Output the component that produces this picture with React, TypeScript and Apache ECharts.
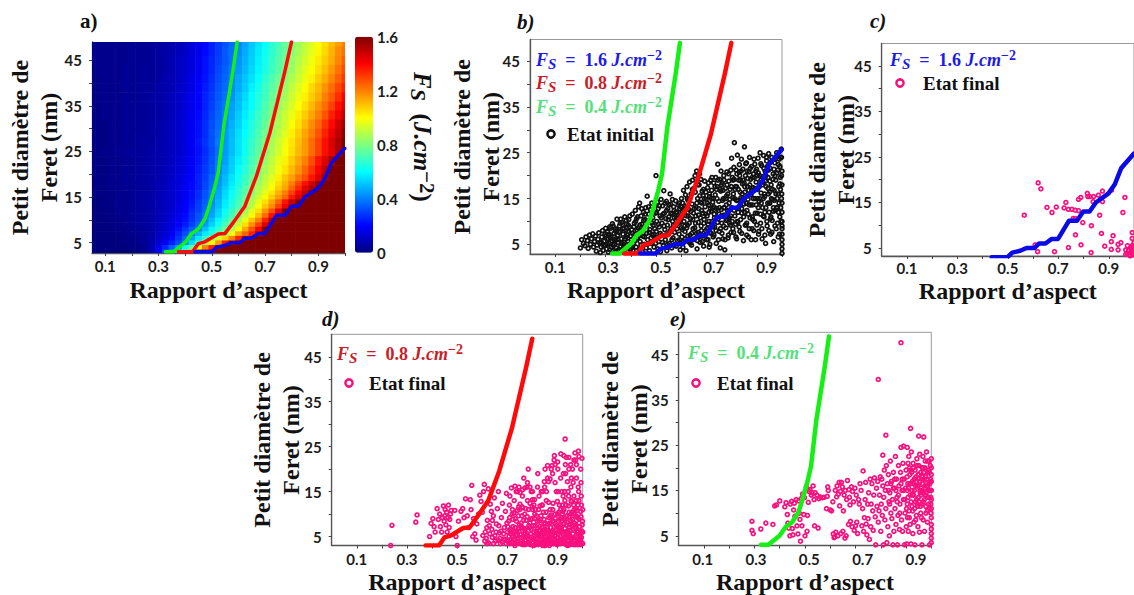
import React, { useEffect, useRef } from "react";
import * as echarts from "echarts";

// ---------- tick values ----------
const xTicks = [0.1, 0.2, 0.3, 0.4, 0.5, 0.6, 0.7, 0.8, 0.9, 1.0];
const xLabels = [0.1, 0.3, 0.5, 0.7, 0.9];
const yTicks = [5, 10, 15, 20, 25, 30, 35, 40, 45];
const yLabels = [5, 15, 25, 35, 45];
const barLabels = [0, 0.4, 0.8, 1.2, 1.6];

// ---------- contour curves (aspect ratio, Feret diameter) ----------
const curve04 = [[0.326,3],[0.355,3],[0.399,5],[0.424,7],[0.449,8],[0.474,10.2],[0.49,13],[0.51,17],[0.524,20.4],[0.545,30.6],[0.578,42.2],[0.595,49]];
const curve08 = [[0.374,3],[0.4275,3],[0.449,4.8],[0.474,5.2],[0.524,6.9],[0.549,7],[0.58,9.4],[0.624,13],[0.6675,19.6],[0.7175,29],[0.774,42.5],[0.799,49]];
const curve16 = [[0.436,3],[0.499,3],[0.5175,4],[0.549,4.4],[0.574,5],[0.605,5],[0.624,6],[0.649,6],[0.674,7],[0.699,7],[0.7425,11],[0.774,11],[0.799,13],[0.824,13],[0.849,15],[0.899,17],[0.924,19],[0.949,22.5],[0.999,25.7]];

// ---------- heat map: Fs in 1/100 J.cm-2 ----------
const heatX = [0.05,0.075,0.1,0.125,0.15,0.175,0.2,0.225,0.25,0.275,0.3,0.325,0.35,0.375,0.4,0.425,0.45,0.475,0.5,0.525,0.55,0.575,0.6,0.625,0.65,0.675,0.7,0.725,0.75,0.775,0.8,0.825,0.85,0.875,0.9,0.925,0.95,0.975,1.0];
const heatY = [49,47,45,43,41,39,37,35,33,31,29,27,25,23,21,19,18,17,16,15,14,13,12,11,10,9,8,7,6,5,4,3];
const heatRowHeight = [2,2,2,2,2,2,2,2,2,2,2,2,2,2,2,2,1,1,1,1,1,1,1,1,1,1,1,1,1,1,1,1];
const heatRows = [
[2,2,2,2,2,2,3,3,3,4,5,6,7,9,11,14,17,21,25,29,33,37,41,46,51,56,61,66,71,76,80,85,90,95,100,105,110,115,120],
[2,2,2,2,2,2,3,3,3,4,5,6,7,9,11,14,17,21,25,29,34,38,42,47,52,57,62,67,72,76,81,86,91,96,101,106,112,118,122],
[2,2,2,2,2,2,3,3,3,4,5,6,8,10,12,15,18,22,26,30,34,38,43,48,53,58,63,68,73,78,83,88,93,98,103,108,113,119,125],
[1,2,2,2,2,3,3,3,4,4,5,6,8,10,12,15,18,22,26,31,35,39,44,49,54,59,64,69,74,79,84,90,95,100,105,110,116,122,128],
[1,1,2,2,2,3,3,3,4,4,5,7,8,10,13,16,19,23,27,32,36,41,46,51,56,61,67,72,77,82,87,92,97,102,108,113,119,125,131],
[1,1,2,2,2,3,3,3,4,4,6,7,8,11,13,16,20,24,28,33,37,42,47,52,58,63,69,74,79,84,90,95,100,106,111,117,123,129,135],
[1,1,2,2,2,3,3,3,4,5,6,7,9,11,14,17,20,25,29,34,38,43,49,54,60,65,70,76,81,86,92,97,102,108,113,120,126,133,140],
[1,1,2,2,2,3,3,3,4,5,6,7,9,11,14,17,20,25,30,35,39,45,50,56,61,66,72,78,83,89,94,100,105,111,117,123,130,138,145],
[1,1,2,2,2,3,3,4,4,5,6,7,9,12,15,18,21,26,31,36,41,46,52,57,63,69,74,80,86,92,97,103,108,114,120,127,135,142,150],
[1,1,1,2,2,3,3,4,4,5,6,8,10,12,15,18,22,27,32,37,42,48,53,59,65,70,76,82,87,93,99,105,111,118,124,132,139,147,154],
[1,1,1,2,2,3,3,4,4,5,6,8,10,12,15,18,22,27,33,38,44,49,55,60,66,72,78,84,89,95,102,108,114,120,127,135,143,150,158],
[1,1,1,2,2,3,3,4,5,5,7,8,10,12,15,19,23,28,33,39,44,50,56,62,68,74,80,86,92,98,104,110,116,123,130,138,146,153,160],
[1,1,2,2,3,3,4,4,5,6,7,8,10,12,15,18,22,27,32,38,44,50,56,62,69,75,81,87,93,99,105,111,116,123,130,138,145,153,160],
[1,1,1,2,2,3,3,4,5,6,7,8,10,13,16,19,23,28,33,39,45,52,58,64,71,77,83,90,96,102,108,114,120,128,137,145,154,160,160],
[1,1,1,2,2,3,3,4,5,6,7,9,11,13,16,20,24,29,34,40,47,53,60,66,73,79,86,92,98,104,111,117,124,132,141,150,160,160,160],
[0,1,1,2,2,3,3,4,5,6,7,9,11,14,17,20,25,30,36,43,49,56,62,69,76,82,89,95,102,109,115,122,128,137,146,155,160,160,160],
[0,1,1,2,2,3,3,4,5,6,8,9,12,14,17,21,25,31,37,44,50,57,64,70,77,84,91,98,105,112,120,129,138,147,156,160,160,160,160],
[0,1,1,2,2,3,3,4,5,6,8,9,12,15,18,21,25,31,38,45,52,59,66,73,80,87,93,100,108,114,124,134,144,153,160,160,160,160,160],
[0,1,1,1,2,2,3,4,5,6,8,10,12,15,18,22,27,33,39,46,54,61,67,74,81,89,96,104,112,120,130,140,150,160,160,160,160,160,160],
[0,0,1,1,2,2,3,4,5,6,8,10,12,15,18,22,27,33,40,47,55,62,69,76,84,92,100,108,116,124,136,146,155,160,160,160,160,160,160],
[0,0,1,1,2,2,3,4,5,6,8,10,12,15,19,23,29,35,42,49,57,64,71,78,87,96,105,114,124,137,149,160,160,160,160,160,160,160,160],
[0,0,1,1,2,2,3,4,5,6,8,10,12,16,19,24,30,36,43,50,58,65,72,80,90,99,109,118,130,143,155,160,160,160,160,160,160,160,160],
[0,0,1,1,2,2,3,4,5,6,8,10,13,16,20,26,31,37,45,53,61,69,76,85,95,105,116,128,143,160,160,160,160,160,160,160,160,160,160],
[0,0,1,1,2,2,3,4,5,6,8,11,14,17,21,27,33,39,46,54,63,71,79,89,100,111,123,138,154,160,160,160,160,160,160,160,160,160,160],
[0,0,0,1,1,2,3,4,5,6,8,11,15,18,22,28,34,41,50,59,67,76,85,97,109,120,135,151,160,160,160,160,160,160,160,160,160,160,160],
[0,0,0,1,1,2,3,4,5,6,9,12,15,19,24,30,36,44,53,62,71,80,92,105,117,130,146,160,160,160,160,160,160,160,160,160,160,160,160],
[0,0,0,0,1,1,2,3,4,6,9,12,16,22,28,35,41,50,59,68,77,88,100,113,127,140,160,160,160,160,160,160,160,160,160,160,160,160,160],
[0,0,0,0,1,1,2,3,4,6,10,13,18,25,32,40,48,57,66,74,82,98,114,124,135,150,160,160,160,160,160,160,160,160,160,160,160,160,160],
[0,0,0,0,0,1,1,2,4,7,11,15,21,28,36,46,57,69,80,93,107,120,135,151,160,160,160,160,160,160,160,160,160,160,160,160,160,160,160],
[0,0,0,0,0,1,1,2,4,7,13,18,25,32,41,55,69,84,100,116,135,152,160,160,160,160,160,160,160,160,160,160,160,160,160,160,160,160,160],
[0,0,0,0,0,0,1,1,3,8,17,26,35,44,62,76,100,120,135,155,160,160,160,160,160,160,160,160,160,160,160,160,160,160,160,160,160,160,160],
[0,0,0,0,0,0,0,1,3,8,20,32,46,63,80,113,160,160,160,160,160,160,160,160,160,160,160,160,160,160,160,160,160,160,160,160,160,160,160],
];

// ---------- scatter clouds: flat pairs, aspect ratio x 1000, Feret diameter x 10 ----------
const initialState = [
200,42,205,60,212,52,218,47,222,66,228,58,231,41,236,70,240,50,244,62,249,73,252,44,256,56,260,68,263,35,266,48,270,61,273,75,277,53,279,32,282,44,285,66,288,80,291,37,294,57,297,71,299,48,300,85,
303,40,305,62,308,77,311,33,314,52,316,88,319,68,322,44,325,58,327,95,330,36,333,74,335,50,338,84,340,62,343,42,345,105,348,70,350,54,352,34,355,90,357,78,360,46,362,62,365,98,367,38,369,72,372,86,374,54,376,110,379,42,381,66,383,94,386,34,388,78,390,56,392,104,395,88,397,46,399,68,
310,62,320,85,330,90,340,78,350,38,360,105,370,50,380,80,390,92,400,40,
402,60,404,82,406,116,409,36,411,52,414,96,416,72,418,124,421,44,423,106,426,64,428,86,431,132,433,38,435,140,437,56,439,78,441,112,444,94,446,34,448,68,450,120,453,50,455,88,457,104,459,130,461,42,463,74,465,155,467,60,469,98,471,116,474,36,476,82,478,126,481,52,483,140,485,70,487,108,489,92,492,44,494,136,496,62,498,118,500,200,
501,78,503,100,505,142,507,40,509,128,511,56,513,88,516,112,518,34,520,148,522,70,524,96,526,134,529,48,531,167,533,118,535,82,537,60,539,106,541,144,543,36,545,92,547,128,549,72,551,110,553,52,556,160,558,138,560,84,562,42,564,116,566,100,568,64,570,132,572,124,574,76,576,90,578,145,580,46,582,108,584,120,586,58,588,136,590,96,592,72,594,128,596,38,598,112,600,86,
601,150,603,66,605,122,607,44,609,168,611,100,613,134,615,78,617,158,619,36,621,112,623,176,625,92,627,146,629,56,631,126,633,186,635,70,637,106,639,160,641,48,643,138,645,190,647,84,649,118,651,172,653,62,655,200,657,96,659,130,661,210,663,40,665,150,667,76,669,114,671,180,673,204,675,54,677,142,679,90,681,124,683,166,685,68,687,156,689,46,691,104,693,188,695,132,697,80,699,148,
701,60,703,112,705,174,707,94,709,136,711,44,713,154,715,76,717,190,719,122,721,168,723,100,725,142,727,66,729,184,731,116,733,88,735,158,737,196,739,52,741,128,743,176,745,225,747,106,749,144,751,78,753,192,755,42,757,166,759,126,761,96,763,184,765,62,767,150,769,200,771,114,773,38,775,172,777,86,779,136,781,208,783,104,785,160,787,70,789,188,791,124,793,148,795,92,797,212,799,176,
710,120,720,150,730,132,740,170,750,116,760,180,770,130,780,156,790,108,800,238,
801,130,803,196,805,84,807,160,809,218,811,272,813,112,815,176,817,66,819,146,821,204,823,245,825,98,827,170,829,132,831,224,833,78,835,190,837,152,839,236,841,118,843,182,845,214,847,58,849,138,851,263,853,164,855,200,857,92,859,228,861,124,863,176,865,148,867,66,869,208,871,240,873,108,875,192,877,158,879,220,881,84,883,136,885,174,887,204,889,236,891,100,893,150,895,60,897,186,899,214,
812,150,822,100,832,200,842,160,852,120,862,210,872,180,882,110,892,225,810,192,820,176,830,208,840,128,850,184,860,96,870,136,880,168,890,196,
901,118,903,170,905,238,907,72,909,144,911,200,913,250,915,96,917,162,919,222,921,62,923,130,925,186,927,244,929,110,931,154,933,210,935,52,937,176,939,232,941,90,943,140,945,196,947,248,949,120,951,164,953,216,955,72,957,180,959,240,961,102,963,148,965,204,967,56,969,168,971,228,973,124,975,190,977,84,979,250,981,150,983,212,985,66,987,176,989,236,991,110,993,196,995,130,997,258,999,160,1000,90,
1000,30,1000,40,1000,50,1000,60,1000,72,1000,84,1000,100,1000,120,1000,140,1000,180,1000,210,
902,200,912,150,922,180,932,120,942,220,952,140,962,170,972,200,982,130,992,220,998,240,998,200,994,170,986,120,976,160,966,130,956,110,946,160,936,200,926,150,916,190,906,130,
283,55,293,46,301,68,307,50,313,72,317,38,323,64,329,48,334,60,339,34,344,82,349,60,353,76,358,96,363,52,368,84,373,44,378,62,382,102,387,70,393,50,396,112,
403,44,407,74,412,88,417,58,419,100,424,82,427,110,432,68,436,92,440,48,443,128,447,82,451,102,454,66,458,116,462,90,466,50,470,132,473,76,477,104,480,64,484,96,488,120,491,72,495,84,499,52,
502,120,506,66,510,94,514,134,517,74,521,108,525,54,528,116,532,90,536,140,538,70,542,124,546,50,548,104,552,136,555,78,559,118,563,60,565,148,569,92,573,108,575,50,579,120,583,84,587,106,591,140,593,60,597,98,599,132,
602,110,604,82,606,140,608,56,612,120,614,90,616,62,618,130,622,86,624,150,626,68,628,112,632,96,634,150,636,52,638,122,642,74,644,170,646,104,648,60,652,128,654,86,656,164,658,112,660,74,662,140,664,58,666,180,668,98,670,128,672,66,674,156,676,108,678,192,680,80,682,140,684,56,686,118,688,170,690,96,692,150,694,70,696,116,698,164,
702,84,704,140,706,60,708,184,710,100,712,160,714,50,716,128,718,74,722,196,724,130,726,88,728,150,730,70,732,108,734,176,736,124,738,80,742,150,744,98,746,190,748,60,752,130,754,170,756,84,758,210,760,112,762,74,764,146,766,168,768,90,770,190,772,130,774,60,776,150,778,102,782,180,784,124,786,64,788,204,790,140,792,96,794,170,796,112,798,76,
802,100,804,152,806,190,808,76,810,124,814,170,816,94,818,212,820,62,824,146,826,120,828,190,830,88,834,164,836,104,838,210,840,74,844,150,846,190,848,110,852,176,854,92,856,226,858,140,860,70,864,194,866,116,868,168,870,84,874,216,876,136,878,60,882,196,884,104,886,150,888,80,892,172,894,118,896,210,898,136,
900,92,904,150,906,206,908,78,910,176,914,116,916,226,918,140,920,84,924,198,926,112,928,216,930,160,932,70,934,188,936,130,938,240,940,100,944,172,946,212,948,80,950,140,952,188,954,106,956,230,958,150,960,76,964,192,966,122,968,214,970,146,972,90,974,236,978,130,980,206,982,96,984,160,986,224,988,140,990,72,992,182,994,240,996,100,998,150,
];

const finalC = [
565,122,620,193,631,180,655,139,675,128,692,140,730,150,723,138,740,135,754,135,767,133,780,132,759,115,767,115,780,157,789,161,815,170,817,163,825,163,840,163,859,166,875,175,838,152,875,152,864,122,797,106,831,99,768,79,871,82,917,77,910,64,740,51,790,57,685,42,618,42,830,40,884,54,910,47,937,46,937,58,948,62,974,55,967,46,978,46,974,38,987,49,993,55,993,71,993,84,967,36,980,35,918,32,802,30,545,31,911,177,964,161,956,128,608,57,
997,43,1000,38,995,35,1000,47,992,43,1000,30,985,33,990,52,1000,62,
];

const finalD = [
235,30,240,75,335,82,340,98,390,50,396,79,403,90,408,72,412,60,420,112,425,88,430,100,433,72,438,60,441,92,445,118,448,84,450,96,452,110,455,76,458,104,460,60,463,92,465,120,468,70,470,88,473,100,476,108,490,108,495,50,500,30,505,84,515,106,522,112,527,92,533,134,540,96,545,70,552,132,555,110,558,164,562,50,565,90,570,56,575,42,578,78,
585,100,590,142,595,128,600,104,605,150,608,166,612,60,616,46,620,86,624,156,628,74,632,122,636,106,640,48,644,96,648,136,652,40,656,78,660,112,664,150,668,58,672,34,676,92,680,124,684,44,688,70,692,106,696,146,
602,52,610,40,618,70,625,36,630,56,638,66,645,34,650,52,655,60,662,42,666,74,670,46,675,62,680,38,685,56,690,44,695,34,698,80,640,86,618,34,
700,60,702,40,705,84,708,120,710,34,713,56,716,158,719,100,722,72,724,44,727,130,730,30,732,90,735,150,738,62,740,108,743,38,746,160,748,76,750,122,753,54,755,34,758,96,760,140,763,46,765,180,768,66,770,32,773,112,775,86,778,160,780,48,783,200,785,74,788,36,790,124,793,56,795,150,798,90,
710,62,720,50,730,60,740,46,750,36,760,70,770,58,780,34,790,80,800,44,705,36,715,44,725,36,735,52,745,68,755,80,765,36,775,52,785,42,795,66,
800,110,803,30,806,60,808,132,811,74,813,40,816,96,818,52,821,190,823,32,826,84,828,64,830,118,833,44,835,150,838,70,840,34,843,104,845,56,847,172,850,80,852,38,855,130,857,62,860,208,862,46,865,92,867,30,870,110,872,70,875,200,877,54,880,36,882,124,885,84,887,230,890,42,892,64,895,150,897,32,900,100,
805,46,815,36,825,52,835,38,845,78,855,50,865,60,875,34,885,58,895,74,810,90,820,68,830,42,840,60,850,50,860,34,870,48,880,84,890,100,900,46,812,32,822,58,832,88,842,46,852,66,862,78,872,94,882,48,892,36,902,60,
901,200,903,72,905,34,907,120,909,88,911,50,913,234,915,64,917,150,919,38,921,106,923,190,925,78,927,46,929,130,931,210,933,60,935,32,937,96,939,172,941,52,943,118,945,226,947,70,949,36,951,86,953,160,955,44,957,104,959,200,961,66,963,32,965,140,967,80,969,236,971,50,973,112,975,180,977,38,979,92,981,60,983,240,985,130,987,72,989,34,991,106,993,170,995,48,997,224,999,84,1000,60,
905,104,915,92,925,110,935,76,945,94,955,128,965,100,975,68,985,90,995,120,910,70,920,60,930,86,940,40,950,64,960,48,970,76,980,44,990,58,1000,110,
908,40,918,84,928,34,938,62,948,52,958,76,968,40,978,108,988,52,998,36,902,150,912,180,922,140,932,190,942,150,952,210,962,170,972,220,982,160,992,200,
880,190,890,170,870,178,860,180,850,200,890,210,900,216,886,220,878,208,925,230,935,226,945,200,955,180,965,220,975,210,985,228,
800,150,790,160,780,170,770,158,760,154,750,148,740,150,730,162,720,110,710,140,820,160,840,150,800,132,780,130,760,114,745,116,930,267,
840,30,850,30,860,44,870,38,880,60,890,52,900,34,910,34,920,44,930,48,940,30,950,32,960,36,970,34,980,32,990,42,1000,34,
702,72,706,50,709,92,712,42,714,66,717,36,721,88,723,56,726,102,729,44,731,70,734,34,736,84,739,54,741,40,744,96,747,62,749,110,752,34,754,72,756,48,759,116,761,32,764,86,766,56,769,100,771,42,774,68,776,34,779,94,781,56,784,110,786,44,789,70,791,32,794,88,796,48,799,116,
801,36,804,74,807,50,809,100,811,32,814,62,817,44,819,84,821,34,824,110,827,56,829,72,831,36,834,96,836,50,839,120,841,64,844,40,846,88,849,60,851,34,854,104,856,42,859,70,861,52,864,126,866,44,869,80,871,36,874,98,876,60,879,44,881,110,884,34,886,72,889,52,891,90,894,40,896,64,899,128,
902,48,904,84,906,62,909,36,912,110,914,74,916,44,919,100,921,56,924,36,926,90,929,68,931,46,934,120,936,32,939,82,941,60,944,42,946,104,949,76,951,50,954,130,956,34,959,88,961,56,964,42,966,110,969,70,971,32,974,96,976,52,979,62,981,120,984,40,986,80,988,48,991,32,993,94,996,62,998,76,
856,150,864,172,848,160,826,140,806,120,812,110,838,120,918,120,928,150,944,140,954,100,964,120,974,130,984,150,994,140,
];

const finalE = [
880,476,790,395,918,287,820,272,950,270,970,268,890,248,905,245,808,228,
290,82,290,62,295,55,325,65,345,78,373,75,380,116,387,118,400,127,420,114,425,123,430,97,432,78,436,67,440,50,442,120,447,126,450,66,452,52,455,107,458,122,460,93,465,130,468,72,472,54,475,127,478,100,480,86,482,38,485,132,488,72,490,142,495,97,498,134,500,50,505,158,508,60,510,95,513,124,516,148,520,152,525,140,528,145,532,160,536,130,538,72,540,145,547,140,552,67,555,132,560,136,570,134,575,135,585,110,588,137,590,158,592,150,600,107,605,105,610,125,
612,54,615,46,618,48,620,150,622,58,625,136,627,160,630,50,632,142,635,168,637,116,640,148,642,55,644,168,648,158,650,60,652,105,655,140,658,45,660,150,663,50,665,130,668,172,672,75,674,152,676,135,678,118,680,82,684,158,686,70,688,148,692,125,695,62,698,155,700,72,
703,140,705,80,708,55,712,130,715,120,718,165,722,150,725,72,728,110,730,193,732,60,735,90,738,130,740,168,742,76,745,52,748,120,750,88,752,145,755,42,758,175,760,70,762,120,765,165,768,105,770,62,772,140,775,178,778,92,780,30,783,155,785,115,788,170,790,80,793,105,795,140,798,180,
800,60,802,120,804,175,806,95,808,160,810,30,812,135,814,195,816,85,818,150,820,110,822,205,824,35,826,165,828,70,830,185,832,125,834,50,836,145,838,215,840,100,842,170,844,88,846,130,848,30,850,190,852,60,854,155,856,110,858,225,860,75,862,175,864,135,866,30,868,95,870,205,872,160,874,64,876,120,878,190,880,245,882,85,884,150,886,60,888,210,890,130,892,175,894,30,896,100,898,155,900,195,
901,70,903,32,905,120,907,165,909,60,911,225,913,90,915,185,917,140,919,32,921,235,923,115,925,170,927,55,929,200,931,80,933,150,935,30,937,125,939,180,941,95,943,220,945,160,947,70,949,135,951,205,953,58,955,170,957,115,959,190,961,90,963,30,965,150,967,225,969,125,971,175,973,60,975,200,977,140,979,100,981,235,983,160,985,80,987,190,989,120,991,215,993,30,995,150,997,175,999,100,1000,200,
1000,35,1000,45,1000,55,1000,65,1000,130,1000,150,1000,170,1000,185,1000,220,905,150,915,165,925,140,935,175,945,120,955,150,965,180,975,160,985,135,995,170,960,155,970,145,980,165,990,150,998,135,992,190,985,215,978,180,968,200,958,140,948,185,938,160,928,165,918,195,908,210,
902,110,904,180,906,90,908,135,910,155,912,105,914,200,916,75,918,165,920,125,922,190,924,150,926,105,928,210,930,140,932,175,934,110,936,195,938,85,940,170,942,130,944,205,946,115,948,160,950,185,952,125,954,230,956,145,958,100,960,175,962,120,964,200,966,165,968,85,970,190,972,130,974,155,976,215,978,115,980,145,982,175,984,105,986,160,988,195,990,135,992,110,994,165,996,205,998,120,1000,90,1000,110,1000,75,
860,150,870,140,880,165,890,150,850,155,840,165,830,150,865,125,875,100,885,175,895,130,855,175,835,120,
];

// ---------- colours, fonts ----------
const BLUE = "#0a0ae6";
const RED = "#ff0a0a";
const GREEN = "#14f014";
const PINK = "#f8107f";
const JET = ["#00007f","#0000ff","#007fff","#00ffff","#7fff7f","#ffff00","#ff7f00","#ff0000","#7f0000"];
const SERIF = "Liberation Serif";
const SANS = "Lato";

const toPoints = (flat: number[]) => {
  const out: number[][] = [];
  for (let i = 0; i + 1 < flat.length; i += 2) out.push([flat[i] / 1000, flat[i + 1] / 10]);
  return out;
};

type Panel = {
  left: number; top: number; width: number; height: number;
  xMin: number; xMax: number; yMin: number; yMax: number;
  labelMin?: number; labelMax?: number; gap: number; border: boolean; xLabelMargin: number; nameGapX: number;
};
const panels: Record<string, Panel> = {
  a: { left: 92, top: 42, width: 253, height: 211, xMin: 0.05, xMax: 1, yMin: 2.75, yMax: 49, gap: 28.5, border: false, xLabelMargin: 5, nameGapX: 24.5 },
  b: { left: 530, top: 39.5, width: 252, height: 214.5, xMin: 0, xMax: 1, yMin: 2.88, yMax: 49.74, labelMin: 0.0042, labelMax: 0.958, gap: 24.5, border: true, xLabelMargin: 5, nameGapX: 23.5 },
  c: { left: 881.7, top: 43.5, width: 253, height: 212.5, xMin: 0, xMax: 1, yMin: 3.25, yMax: 49.9, gap: 21.5, border: true, xLabelMargin: 4, nameGapX: 22.5 },
  d: { left: 331.7, top: 334.3, width: 251, height: 212.4, xMin: 0, xMax: 1, yMin: 3, yMax: 50, gap: 26.5, border: true, xLabelMargin: 6, nameGapX: 24.5 },
  e: { left: 678.7, top: 332.3, width: 252.6, height: 213.4, xMin: 0, xMax: 1, yMin: 2.86, yMax: 49.9, labelMin: 0.01, labelMax: 0.9575, gap: 25.5, border: true, xLabelMargin: 6, nameGapX: 24.5 },
};

const tickFont = { fontFamily: SANS, fontWeight: "bold" as const, fontSize: 15, color: "#1c1c1c" };
const nameFont = { fontFamily: SERIF, fontWeight: "bold" as const, fontSize: 24, color: "#111" };

const grids: any[] = [];
const xAxes: any[] = [];
const yAxes: any[] = [];
const axisIdx: Record<string, { x: number; y: number }> = {};

Object.keys(panels).forEach((k) => {
  const p = panels[k];
  const g = grids.length;
  grids.push({ left: p.left, top: p.top, width: p.width, height: p.height, show: p.border, borderColor: "#9a9a9a", borderWidth: 1, backgroundColor: "transparent" });
  const line = { show: true, onZero: false, lineStyle: { color: "#555", width: 1.3 } };
  const hasLabelAxis = p.labelMin !== undefined;
  axisIdx[k] = { x: xAxes.length, y: yAxes.length };
  xAxes.push({
    type: "value", gridIndex: g, min: p.xMin, max: p.xMax, position: "bottom",
    axisLine: line,
    axisTick: { show: true, length: 3, customValues: xTicks, lineStyle: { color: "#444", width: 1 } },
    axisLabel: hasLabelAxis ? { show: false } : { show: true, customValues: xLabels, margin: p.xLabelMargin, formatter: (v: number) => v.toFixed(1), ...tickFont },
    splitLine: { show: false },
    name: "Rapport d’aspect", nameLocation: "middle", nameGap: p.nameGapX, nameMoveOverlap: false, nameTextStyle: nameFont,
  });
  if (hasLabelAxis) {
    xAxes.push({
      type: "value", gridIndex: g, min: p.labelMin, max: p.labelMax, position: "bottom",
      axisLine: { show: false }, axisTick: { show: false }, splitLine: { show: false },
      axisLabel: { show: true, customValues: xLabels, margin: p.xLabelMargin, formatter: (v: number) => v.toFixed(1), ...tickFont },
    });
  }
  yAxes.push({
    type: "value", gridIndex: g, min: p.yMin, max: p.yMax, position: "left",
    axisLine: line,
    axisTick: { show: true, length: 3, customValues: yTicks, lineStyle: { color: "#444", width: 1 } },
    axisLabel: { show: true, customValues: yLabels, margin: 10, formatter: (v: number) => String(v), ...tickFont },
    splitLine: { show: false },
    name: "Petit diamètre de\nFeret (nm)", nameLocation: "middle", nameRotate: 90, nameGap: p.gap, nameMoveOverlap: false,
    nameTextStyle: { ...nameFont, lineHeight: 29, align: "center" },
  });
});

// colour bar axis
const barGrid = grids.length;
grids.push({ left: 355, top: 36.7, width: 18, height: 216, show: false });
const barX = xAxes.length;
xAxes.push({ type: "value", gridIndex: barGrid, min: 0, max: 1, show: false });
const barY = yAxes.length;
yAxes.push({
  type: "value", gridIndex: barGrid, min: 0, max: 1.6, position: "right",
  axisLine: { show: false }, axisTick: { show: false }, splitLine: { show: false },
  axisLabel: { show: true, customValues: barLabels, margin: 4, formatter: (v: number) => (v === 0 ? "0" : v.toFixed(1)), ...tickFont },
});

const heatData: number[][] = [];
heatRows.forEach((row, r) => row.forEach((v, c) => heatData.push([heatX[c], heatY[r], v / 100, heatRowHeight[r]])));

const curveSeries = (k: string, data: number[][], color: string, width = 4.5, z = 5) => ({
  type: "line", xAxisIndex: axisIdx[k].x, yAxisIndex: axisIdx[k].y, data, showSymbol: false, symbol: "none",
  lineStyle: { color, width, join: "round", cap: "round" }, z, silent: true,
});
const cloud = (k: string, flat: number[], color: string) => ({
  type: "scatter", xAxisIndex: axisIdx[k].x, yAxisIndex: axisIdx[k].y, data: toPoints(flat), symbol: "circle", symbolSize: 3.8,
  itemStyle: { color: "transparent", borderColor: color, borderWidth: 1.7, opacity: 1 }, z: 2, silent: true, clip: true,
});

const series: any[] = [
  {
    type: "custom", xAxisIndex: axisIdx.a.x, yAxisIndex: axisIdx.a.y, data: heatData, clip: true, z: 1, silent: true,
    encode: { x: 0, y: 1 },
    renderItem: (_p: any, api: any) => {
      const c = api.coord([api.value(0), api.value(1)]);
      const s = api.size([0.025, api.value(3)]);
      return { type: "rect", shape: { x: c[0] - s[0] / 2, y: c[1] - s[1] / 2, width: s[0] + 0.6, height: s[1] + 0.6 }, style: { fill: api.visual("color") } };
    },
  },
  curveSeries("a", curve04, GREEN, 3.5),
  curveSeries("a", curve08, RED, 3.5),
  curveSeries("a", curve16, BLUE, 3.5),
  cloud("b", initialState, "#111"),
  curveSeries("b", curve04, GREEN),
  curveSeries("b", curve08, RED),
  curveSeries("b", curve16, BLUE),
  cloud("c", finalC, PINK),
  curveSeries("c", curve16, BLUE),
  cloud("d", finalD, PINK),
  curveSeries("d", curve08, RED),
  cloud("e", finalE, PINK),
  curveSeries("e", curve04, GREEN),
];

const fsRich = (fill: string, fontSize = 18) => ({
  f: { fontFamily: SERIF, fontStyle: "italic", fontWeight: "bold", fontSize, fill, lineHeight: fontSize + 5, verticalAlign: "middle" },
  s: { fontFamily: SERIF, fontStyle: "italic", fontWeight: "bold", fontSize: fontSize - 3, fill, lineHeight: fontSize + 5, verticalAlign: "bottom" },
  n: { fontFamily: SERIF, fontWeight: "bold", fontSize, fill, lineHeight: fontSize + 5, verticalAlign: "middle" },
  p: { fontFamily: SERIF, fontWeight: "bold", fontSize: fontSize - 4, fill, lineHeight: fontSize + 5, verticalAlign: "top" },
});
const fsText = (x: number, y: number, val: string, fill: string) => ({
  type: "text", x, y, silent: true, z: 10,
  style: { text: `{f|F}{s|S}{n|  =  ${val} }{f|J.cm}{p|−2}`, rich: fsRich(fill), verticalAlign: "middle", align: "left" },
});
const etat = (mx: number, my: number, tx: number, label: string, color: string) => [
  { type: "circle", x: mx, y: my, silent: true, z: 10, shape: { r: 3.6 }, style: { fill: "#fff", stroke: color, lineWidth: 2.5 } },
  { type: "text", x: tx, y: my, silent: true, z: 10, style: { text: label, fontFamily: SERIF, fontWeight: "bold", fontSize: 19, fill: "#111", verticalAlign: "middle" } },
];
const letter = (x: number, y: number, text: string, italic: boolean) => ({
  type: "text", x, y, silent: true, z: 10,
  style: { text, fontFamily: SERIF, fontWeight: "bold", fontStyle: italic ? "italic" : "normal", fontSize: 21, fill: "#111", verticalAlign: "middle" },
});

const graphic: any[] = [
  letter(80, 21, "a)", false),
  letter(517, 22, "b)", true),
  letter(870, 21, "c)", true),
  letter(322, 319, "d)", true),
  letter(670, 319, "e)", true),
  fsText(536, 60, "1.6", "#1c1ce6"),
  fsText(536, 83, "0.8", "#c81e28"),
  fsText(536, 107, "0.4", "#55e07a"),
  ...etat(551, 134, 567, "Etat initial", "#111"),
  fsText(890, 60, "1.6", "#1c1ce6"),
  ...etat(900, 83, 923, "Etat final", PINK),
  fsText(337, 354, "0.8", "#c81e28"),
  ...etat(349, 383, 369, "Etat final", PINK),
  fsText(688, 353, "0.4", "#55e07a"),
  ...etat(696, 383, 717, "Etat final", PINK),
  {
    type: "text", x: 422, y: 137, rotation: -Math.PI / 2, silent: true, z: 10,
    style: {
      text: "{f|F}{s|S}{n|  (}{f|J.cm}{p|−2}{n|)}",
      rich: fsRich("#111", 25), align: "center", verticalAlign: "middle",
    },
  },
];

const option: any = {
  animation: false,
  backgroundColor: "#fff",
  grid: grids,
  xAxis: xAxes,
  yAxis: yAxes,
  visualMap: {
    type: "continuous", min: 0, max: 1.6, seriesIndex: 0, dimension: 2, calculable: false, realtime: false,
    inRange: { color: JET }, left: 355, top: 36.7, itemWidth: 18, itemHeight: 216, text: ["", ""], showLabel: false, orient: "vertical", padding: 0, itemGap: 0,
  },
  series,
  graphic,
};

export default function App() {
  const ref = useRef<HTMLDivElement>(null);
  useEffect(() => {
    const chart = echarts.init(ref.current!, undefined, { renderer: "svg" });
    chart.setOption(option);
    return () => chart.dispose();
  }, []);
  return <div ref={ref} style={{ position: "absolute", left: 0, top: 0, width: 1134, height: 595, overflow: "hidden" }} />;
}
